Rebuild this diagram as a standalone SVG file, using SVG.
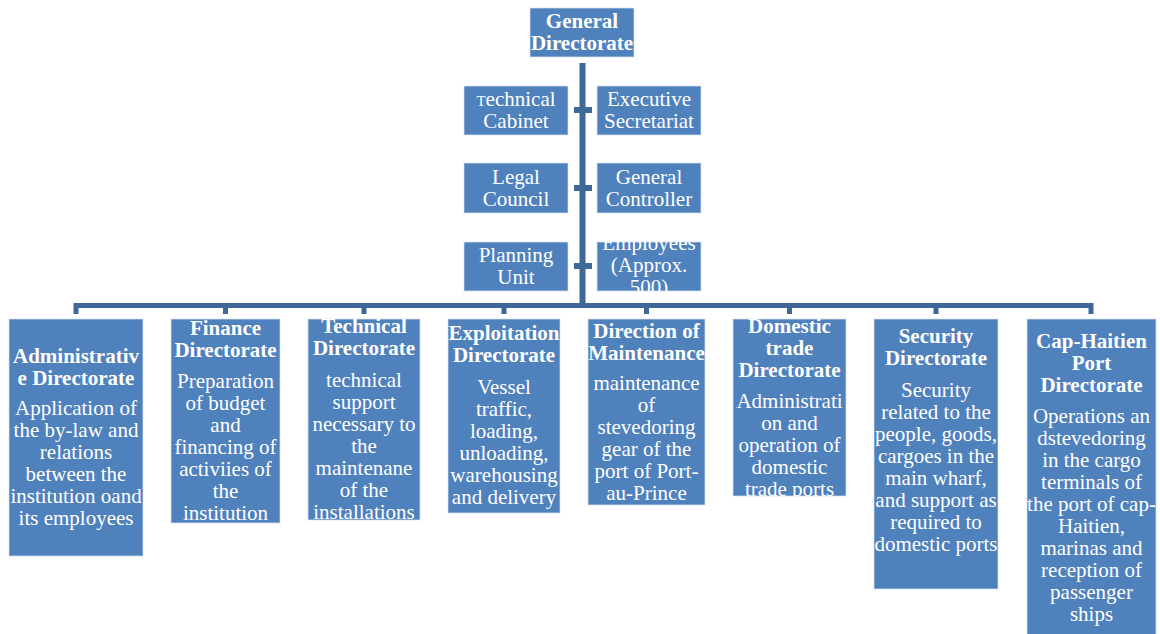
<svg xmlns="http://www.w3.org/2000/svg" width="1160" height="634" viewBox="0 0 1160 634">
  <style>
    .box { fill: #4F81BD; stroke: #DCE6F2; stroke-opacity: 0.7; stroke-width: 1; }
    .t { font-family: "Liberation Serif", "Times New Roman", serif; font-size: 21px; fill: #FFFFFF; text-anchor: middle; }
    .b { font-weight: bold; }
    .wire { fill: none; stroke: #3F6797; stroke-linejoin: miter; }
  </style>
  <defs>
    <clipPath id="clipEmp"><rect x="597" y="242" width="104" height="49"/></clipPath>
    <clipPath id="clipDom"><rect x="733" y="319" width="113" height="177"/></clipPath>
    <clipPath id="clipTech"><rect x="308" y="319" width="112" height="201"/></clipPath>
  </defs>
  <rect width="1160" height="634" fill="#FFFFFF"/>

  <!-- connectors -->
  <g id="connectors">
    <path class="wire" stroke-width="6" d="M582.5,63 V305"/>
    <path class="wire" stroke-width="6" d="M574,110 H592 M574,188 H592 M574,266 H592"/>
    <path class="wire" stroke-width="5" d="M76,314 V305.5 H1091 V314"/>
    <path class="wire" stroke-width="5" d="M225.5,305 V314 M364,305 V314 M504,305 V314 M646.5,305 V314 M789.5,305 V314 M936,305 V314"/>
  </g>

  <!-- top -->
  <g id="general-directorate">
    <rect class="box" x="530" y="8" width="104" height="49"/>
    <text class="t b" x="582" y="28">General</text>
    <text class="t b" x="582" y="50">Directorate</text>
  </g>

  <!-- staff units -->
  <g id="technical-cabinet">
    <rect class="box" x="464" y="86" width="104" height="49"/>
    <text class="t" x="516" y="106"><tspan font-size="15">T</tspan>echnical</text>
    <text class="t" x="516" y="128">Cabinet</text>
  </g>
  <g id="executive-secretariat">
    <rect class="box" x="597" y="86" width="104" height="49"/>
    <text class="t" x="649" y="106">Executive</text>
    <text class="t" x="649" y="128">Secretariat</text>
  </g>
  <g id="legal-council">
    <rect class="box" x="464" y="163" width="104" height="50"/>
    <text class="t" x="516" y="184">Legal</text>
    <text class="t" x="516" y="206">Council</text>
  </g>
  <g id="general-controller">
    <rect class="box" x="597" y="163" width="104" height="50"/>
    <text class="t" x="649" y="184">General</text>
    <text class="t" x="649" y="206">Controller</text>
  </g>
  <g id="planning-unit">
    <rect class="box" x="464" y="242" width="104" height="49"/>
    <text class="t" x="516" y="262">Planning</text>
    <text class="t" x="516" y="284">Unit</text>
  </g>
  <g id="employees">
    <rect class="box" x="597" y="242" width="104" height="49"/>
    <g clip-path="url(#clipEmp)">
      <text class="t" x="649" y="250">Employees</text>
      <text class="t" x="649" y="272">(Approx.</text>
      <text class="t" x="649" y="294">500)</text>
    </g>
  </g>

  <!-- directorates -->
  <g id="administrative-directorate">
    <rect class="box" x="9" y="319" width="134" height="237"/>
    <text class="t b" x="76" y="363">Administrativ</text>
    <text class="t b" x="76" y="385">e Directorate</text>
    <text class="t" x="76" y="415">Application of</text>
    <text class="t" x="76" y="437">the by-law and</text>
    <text class="t" x="76" y="459">relations</text>
    <text class="t" x="76" y="481">between the</text>
    <text class="t" x="76" y="503">institution oand</text>
    <text class="t" x="76" y="525">its employees</text>
  </g>

  <g id="finance-directorate">
    <rect class="box" x="171" y="319" width="109" height="204"/>
    <text class="t b" x="225.5" y="335">Finance</text>
    <text class="t b" x="225.5" y="357">Directorate</text>
    <text class="t" x="225.5" y="388">Preparation</text>
    <text class="t" x="225.5" y="410">of budget</text>
    <text class="t" x="225.5" y="432">and</text>
    <text class="t" x="225.5" y="454">financing of</text>
    <text class="t" x="225.5" y="476">activiies of</text>
    <text class="t" x="225.5" y="498">the</text>
    <text class="t" x="225.5" y="520">institution</text>
  </g>

  <g id="technical-directorate">
    <rect class="box" x="308" y="319" width="112" height="201"/>
    <g clip-path="url(#clipTech)">
      <text class="t b" x="364" y="333">Technical</text>
      <text class="t b" x="364" y="355">Directorate</text>
    </g>
    <text class="t" x="364" y="387">technical</text>
    <text class="t" x="364" y="409">support</text>
    <text class="t" x="364" y="431">necessary to</text>
    <text class="t" x="364" y="453">the</text>
    <text class="t" x="364" y="475">maintenane</text>
    <text class="t" x="364" y="497">of the</text>
    <text class="t" x="364" y="519">installations</text>
  </g>

  <g id="exploitation-directorate">
    <rect class="box" x="448" y="319" width="112" height="194"/>
    <text class="t b" x="504" y="340">Exploitation</text>
    <text class="t b" x="504" y="362">Directorate</text>
    <text class="t" x="504" y="394">Vessel</text>
    <text class="t" x="504" y="416">traffic,</text>
    <text class="t" x="504" y="438">loading,</text>
    <text class="t" x="504" y="460">unloading,</text>
    <text class="t" x="504" y="482">warehousing</text>
    <text class="t" x="504" y="504">and delivery</text>
  </g>

  <g id="direction-of-maintenance">
    <rect class="box" x="588" y="319" width="117" height="186"/>
    <text class="t b" x="646.5" y="338">Direction of</text>
    <text class="t b" x="646.5" y="360">Maintenance</text>
    <text class="t" x="646.5" y="390">maintenance</text>
    <text class="t" x="646.5" y="412">of</text>
    <text class="t" x="646.5" y="434">stevedoring</text>
    <text class="t" x="646.5" y="456">gear of the</text>
    <text class="t" x="646.5" y="478">port of Port-</text>
    <text class="t" x="646.5" y="500">au-Prince</text>
  </g>

  <g id="domestic-trade-directorate">
    <rect class="box" x="733" y="319" width="113" height="177"/>
    <g clip-path="url(#clipDom)">
      <text class="t b" x="789.5" y="333">Domestic</text>
      <text class="t b" x="789.5" y="355">trade</text>
      <text class="t b" x="789.5" y="377">Directorate</text>
      <text class="t" x="789.5" y="408">Administrati</text>
      <text class="t" x="789.5" y="430">on and</text>
      <text class="t" x="789.5" y="452">operation of</text>
      <text class="t" x="789.5" y="474">domestic</text>
      <text class="t" x="789.5" y="496">trade ports</text>
    </g>
  </g>

  <g id="security-directorate">
    <rect class="box" x="874" y="319" width="124" height="270"/>
    <text class="t b" x="936" y="343">Security</text>
    <text class="t b" x="936" y="365">Directorate</text>
    <text class="t" x="936" y="397">Security</text>
    <text class="t" x="936" y="419">related to the</text>
    <text class="t" x="936" y="441">people, goods,</text>
    <text class="t" x="936" y="463">cargoes in the</text>
    <text class="t" x="936" y="485">main wharf,</text>
    <text class="t" x="936" y="507">and support as</text>
    <text class="t" x="936" y="529">required to</text>
    <text class="t" x="936" y="551">domestic ports</text>
  </g>

  <g id="cap-haitien-port-directorate">
    <rect class="box" x="1027" y="319" width="129" height="320"/>
    <text class="t b" x="1091.5" y="348">Cap-Haitien</text>
    <text class="t b" x="1091.5" y="370">Port</text>
    <text class="t b" x="1091.5" y="392">Directorate</text>
    <text class="t" x="1091.5" y="423">Operations an</text>
    <text class="t" x="1091.5" y="445">dstevedoring</text>
    <text class="t" x="1091.5" y="467">in the cargo</text>
    <text class="t" x="1091.5" y="489">terminals of</text>
    <text class="t" x="1091.5" y="511">the port of cap-</text>
    <text class="t" x="1091.5" y="533">Haitien,</text>
    <text class="t" x="1091.5" y="555">marinas and</text>
    <text class="t" x="1091.5" y="577">reception of</text>
    <text class="t" x="1091.5" y="599">passenger</text>
    <text class="t" x="1091.5" y="621">ships</text>
  </g>
</svg>
